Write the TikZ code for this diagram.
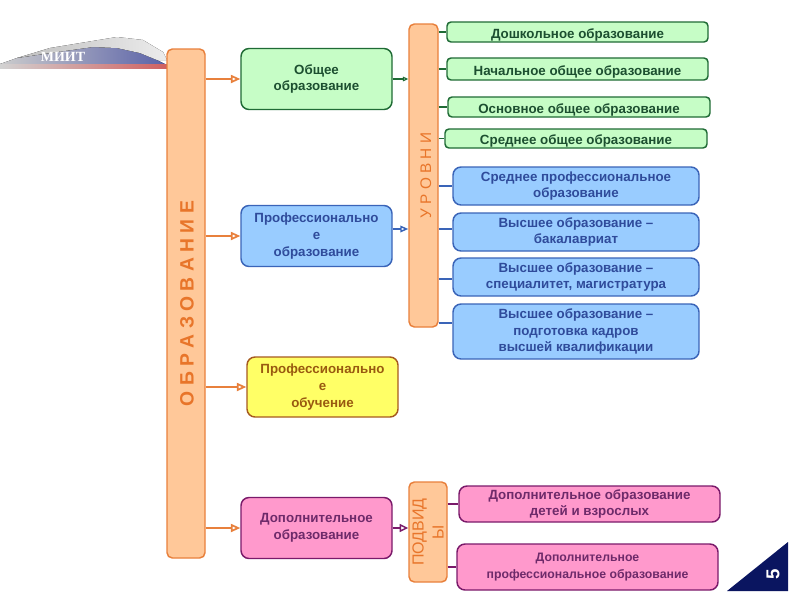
\documentclass[tikz,border=0pt]{standalone}
\usepackage{fontspec}
\setmainfont{Liberation Sans}
\newfontfamily\logofont{Liberation Serif}
\usepackage{xcolor}
\usetikzlibrary{arrows.meta,positioning}
\definecolor{orangeline}{HTML}{E8803C}
\definecolor{orangebg}{HTML}{FFC899}
\definecolor{orangetext}{HTML}{E8752A}
\definecolor{greenline}{HTML}{1F6B35}
\definecolor{greenbg}{HTML}{C6FDC6}
\definecolor{greentext}{HTML}{1C4F30}
\definecolor{blueline}{HTML}{3A64B8}
\definecolor{bluebg}{HTML}{99CCFF}
\definecolor{bluetext}{HTML}{2F4B9B}
\definecolor{yellowline}{HTML}{A65A20}
\definecolor{yellowbg}{HTML}{FFFF66}
\definecolor{yellowtext}{HTML}{995A10}
\definecolor{pinkline}{HTML}{7A1A6A}
\definecolor{pinkbg}{HTML}{FF99CC}
\definecolor{pinktext}{HTML}{6E2A6A}
\definecolor{navytri}{HTML}{0A1560}
\definecolor{trainblue}{HTML}{5A62A8}
\definecolor{trainred}{HTML}{D06060}

\begin{document}
\begin{tikzpicture}[
  x=0.75pt, y=-0.75pt,
  box/.style={rectangle, rounded corners=6pt, line width=1.1pt, align=center, inner sep=0pt, font=\fontsize{10}{12.6}\selectfont\bfseries, execute at begin node={\rule{0pt}{11.5pt}}},
  size/.style 2 args={minimum width=#1*0.75pt, minimum height=#2*0.75pt},
  greenbox/.style={box, draw=greenline, fill=greenbg, text=greentext},
  bluebox/.style={box, draw=blueline, fill=bluebg, text=bluetext},
  yellowbox/.style={box, draw=yellowline, fill=yellowbg, text=yellowtext},
  pinkbox/.style={box, draw=pinkline, fill=pinkbg, text=pinktext},
  smallbox/.style={rounded corners=3pt, execute at begin node={\rule{0pt}{10pt}}},
  bar/.style={box, rotate=90, rounded corners=4pt, draw=orangeline, fill=orangebg, text=orangetext, execute at begin node={}},
  arrow/.style={-{Triangle[open, length=7pt, width=6pt]}, line width=1.3pt, draw=orangeline},
  greenarrow/.style={-{Triangle[open, length=4pt, width=3.5pt]}, line width=0.8pt, draw=greenline},
  bluearrow/.style={-{Triangle[open, length=6pt, width=5pt]}, line width=1.1pt, draw=blueline},
  pinkarrow/.style={-{Triangle[open, length=6.5pt, width=6pt]}, line width=1.1pt, draw=pinkline},
  link/.style={line width=1pt}
]
  \useasboundingbox (0,0) rectangle (800,600);
  \fill[white] (0,0) rectangle (800,600);

  \fill[left color=gray!40, middle color=trainblue, right color=trainblue] (0,64) -- (17,58) -- (50,53) -- (93,47) -- (117,48) -- (140,53) -- (157,60) -- (165,64) -- cycle;
  \fill[left color=gray!50, right color=gray!15] (17,58) -- (50,48) -- (117,37) -- (143,40) -- (163,52) -- (167,60) -- (157,60) -- (140,53) -- (117,48) -- (93,47) -- (50,53) -- cycle;
  \fill[left color=gray!35, right color=trainred] (0,64) rectangle (167,68);
  \node[text=white, font=\logofont\bfseries\fontsize{10.5}{12}\selectfont] (logo) at (63,57) {МИИТ};

  \node[bar, size={509}{38}, font=\fontsize{14.5}{16}\selectfont\bfseries] (obraz) at (186,303.5) {О Б Р А З О В А Н И Е};
  \node[bar, size={303}{29}, font=\fontsize{11.5}{13}\selectfont] (urovni) at (423.5,175.5) {У Р О В Н И};
  \node[bar, size={100}{38}, font=\fontsize{12}{15}\selectfont] (podvidy) at (428,532) {ПОДВИД\\Ы};

  \node[greenbox, size={151}{61}] (obshee) at (316.5,79) {Общее\\образование};
  \node[bluebox, size={151}{61}] (prof) at (316.5,236) {Профессионально\\е\\образование};
  \node[yellowbox, size={151}{60}] (obuch) at (322.5,387) {Профессионально\\е\\обучение};
  \node[pinkbox, size={151}{61}] (dop) at (316.5,528) {Дополнительное\\образование};

  \node[greenbox, smallbox, size={261}{20}] (doshk) at (577.5,32) {Дошкольное образование};
  \node[greenbox, smallbox, size={261}{22}] (nach) at (577.5,69) {Начальное общее образование};
  \node[greenbox, smallbox, size={262}{20}] (osn) at (579,107) {Основное общее образование};
  \node[greenbox, smallbox, size={262}{19}] (sred) at (576,138.5) {Среднее общее образование};

  \node[bluebox, size={246}{38}] (spo) at (576,186) {Среднее профессиональное\\образование};
  \node[bluebox, size={246}{38}] (bak) at (576,232) {Высшее образование --\\бакалавриат};
  \node[bluebox, size={246}{38}] (spec) at (576,277) {Высшее образование --\\специалитет, магистратура};
  \node[bluebox, size={246}{55}] (kadr) at (576,331.5) {Высшее образование --\\подготовка кадров\\высшей квалификации};

  \node[pinkbox, size={261}{36}] (deti) at (589.5,504) {Дополнительное образование\\детей и взрослых};
  \node[pinkbox, size={261}{46}, font=\fontsize{9.2}{12.4}\selectfont\bfseries] (dpo) at (587.5,567) {Дополнительное\\профессиональное образование};

  \fill[navytri] (727,591) -- (788,542) -- (788,591) -- cycle;
  \node[rotate=90, text=white, font=\fontsize{14}{15}\selectfont\bfseries] (page) at (773,574) {5};

  \coordinate (bakjoin) at ([yshift=2.25pt]bak.west);
  \coordinate (specjoin) at ([yshift=-1.5pt]spec.west);
  \coordinate (kadrjoin) at ([yshift=6.4pt]kadr.west);

  \draw[arrow] (obraz.south |- obshee.west) -- (obshee.west);
  \draw[arrow] (obraz.south |- prof.west) -- (prof.west);
  \draw[arrow] (obraz.south |- obuch.west) -- (obuch.west);
  \draw[arrow] (obraz.south |- dop.west) -- (dop.west);

  \draw[greenarrow] (obshee.east) -- (obshee.east -| urovni.north);
  \draw[bluearrow] (prof.east |- bakjoin) -- (bakjoin -| urovni.north);
  \draw[pinkarrow] (dop.east) -- (dop.east -| podvidy.north);

  \draw[link, draw=greenline] (doshk.west -| urovni.south) -- (doshk.west);
  \draw[link, draw=greenline] (nach.west -| urovni.south) -- (nach.west);
  \draw[link, draw=greenline] (osn.west -| urovni.south) -- (osn.west);
  \draw[link, draw=greenline] (sred.west -| urovni.south) -- (sred.west);
  \draw[link, draw=blueline] (spo.west -| urovni.south) -- (spo.west);
  \draw[link, draw=blueline] (bakjoin -| urovni.south) -- (bakjoin);
  \draw[link, draw=blueline] (specjoin -| urovni.south) -- (specjoin);
  \draw[link, draw=blueline] (kadrjoin -| urovni.south) -- (kadrjoin);
  \draw[link, draw=pinkline] (deti.west -| podvidy.south) -- (deti.west);
  \draw[link, draw=pinkline] (dpo.west -| podvidy.south) -- (dpo.west);
\end{tikzpicture}
\end{document}
